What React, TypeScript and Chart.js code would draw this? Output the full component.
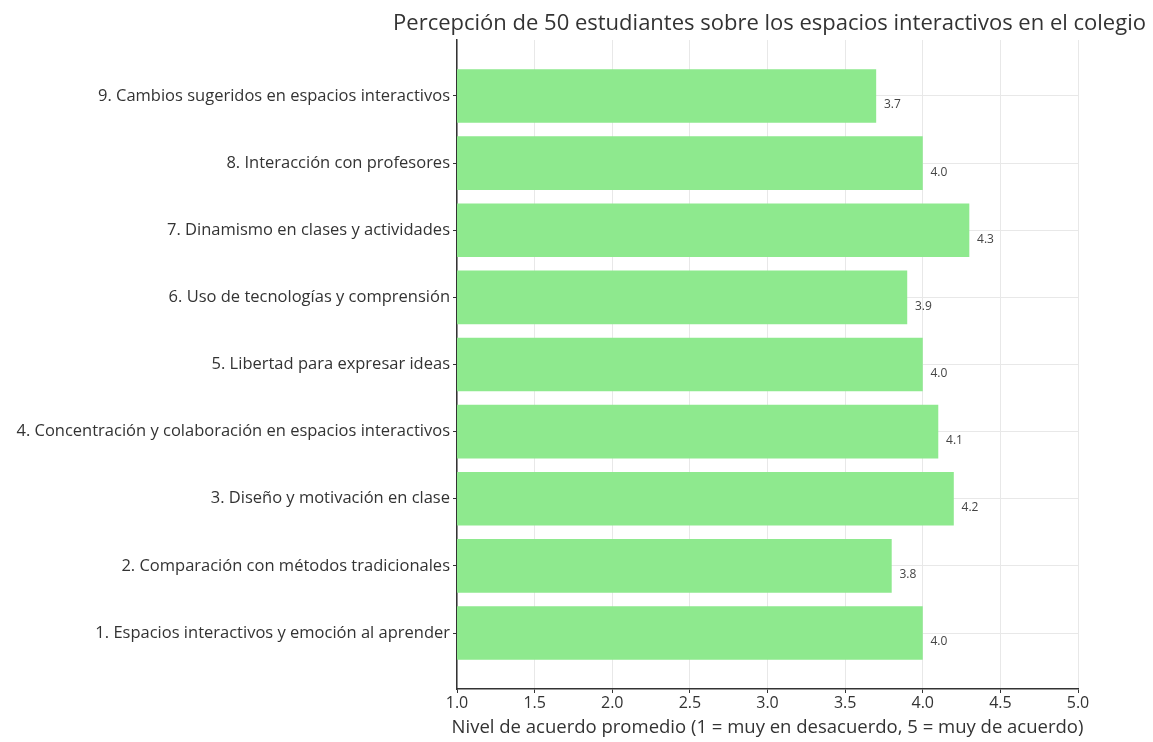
import React, { useEffect, useRef } from "react";
import { Chart, registerables } from "chart.js";

Chart.register(...registerables);

const categories = [
  "1. Espacios interactivos y emoción al aprender",
  "2. Comparación con métodos tradicionales",
  "3. Diseño y motivación en clase",
  "4. Concentración y colaboración en espacios interactivos",
  "5. Libertad para expresar ideas",
  "6. Uso de tecnologías y comprensión",
  "7. Dinamismo en clases y actividades",
  "8. Interacción con profesores",
  "9. Cambios sugeridos en espacios interactivos",
];
const values = [4.0, 3.8, 4.2, 4.1, 4.0, 3.9, 4.3, 4.0, 3.7];
const xTicks = [1.0, 1.5, 2.0, 2.5, 3.0, 3.5, 4.0, 4.5, 5.0];
const title = "Percepción de 50 estudiantes sobre los espacios interactivos en el colegio";
const xTitle = "Nivel de acuerdo promedio (1 = muy en desacuerdo, 5 = muy de acuerdo)";

const FONT = "'Open Sans', 'Noto Sans', sans-serif";
const TEXT = "#333333";

export default function App() {
  const ref = useRef<HTMLCanvasElement | null>(null);
  useEffect(() => {
    document.body.style.margin = "0";
    const canvas = ref.current!;
    const labelPlugin = {
      id: "labels",
      afterDatasetsDraw(chart: any) {
        const ctx = chart.ctx;
        const xs = chart.scales.x;
        const ys = chart.scales.y;
        const ca = chart.chartArea;
        ctx.save();
        ctx.fillStyle = "#444";
        ctx.font = `12px ${FONT}`;
        ctx.textAlign = "left";
        ctx.textBaseline = "middle";
        values.forEach((v, i) => {
          ctx.fillText(v.toFixed(1), xs.getPixelForValue(v + 0.05), ys.getPixelForValue(i) + 9);
        });
        ctx.fillStyle = TEXT;
        ctx.textAlign = "center";
        ctx.textBaseline = "alphabetic";
        ctx.font = `22px ${FONT}`;
        ctx.fillText(title, (ca.left + ca.right) / 2 + 2, 30);
        ctx.font = `18.5px ${FONT}`;
        ctx.fillText(xTitle, (ca.left + ca.right) / 2, ca.bottom + 44);
        ctx.restore();
      },
    };
    const chart = new Chart(canvas, {
      type: "bar",
      data: {
        datasets: [
          {
            data: values.map((v, i) => ({ x: v, y: i })),
            backgroundColor: "#8ee98e",
            borderWidth: 0,
            barPercentage: 0.8,
            categoryPercentage: 1,
          },
        ],
      },
      options: {
        animation: false,
        responsive: false,
        indexAxis: "y",
        layout: { padding: { top: 40, right: 75, bottom: 0, left: 0 } },
        plugins: { legend: { display: false }, tooltip: { enabled: false } },
        scales: {
          x: {
            type: "linear",
            min: 1,
            max: 5,
            afterBuildTicks: (s: any) => {
              s.ticks = xTicks.map((v) => ({ value: v }));
            },
            afterFit: (s: any) => {
              s.height = 53;
            },
            ticks: {
              callback: (v: any) => Number(v).toFixed(1),
              color: TEXT,
              font: { family: FONT, size: 16 },
              padding: 1,
              maxRotation: 0,
            },
            grid: { color: "#e8e8e8", tickLength: 4, tickColor: "#333" },
            border: { color: "#333", width: 1.5 },
          },
          y: {
            type: "linear",
            min: -0.834,
            max: 8.834,
            offset: false,
            afterBuildTicks: (s: any) => {
              s.ticks = categories.map((_, i) => ({ value: i }));
            },
            afterFit: (s: any) => {
              s.width = 457;
            },
            ticks: {
              callback: (v: any) => categories[Math.round(Number(v))] ?? "",
              color: TEXT,
              font: { family: FONT, size: 16.5 },
              padding: 3,
            },
            grid: { color: "#e8e8e8", tickLength: 4, tickColor: "#333", offset: false },
            border: { color: "#333", width: 1.5 },
          },
        },
      },
      plugins: [labelPlugin],
    } as any);
    return () => chart.destroy();
  }, []);
  return <canvas ref={ref} width={1153} height={742} style={{ display: "block" }} />;
}
